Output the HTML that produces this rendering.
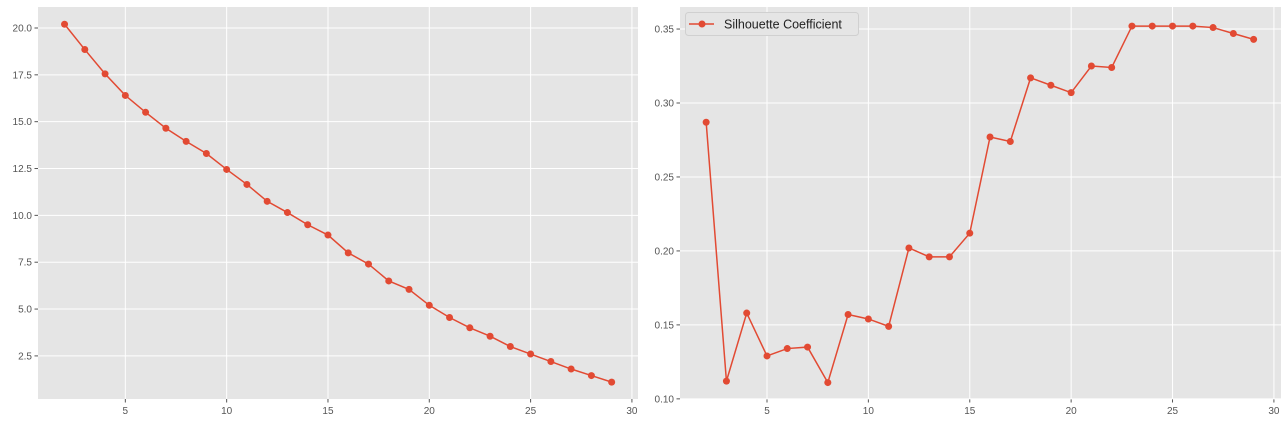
<!DOCTYPE html>
<html><head><meta charset="utf-8"><style>
body{margin:0;background:#fff;}
svg{display:block;font-family:"Liberation Sans",sans-serif;}
</style></head><body>
<svg id="c" width="1287" height="424"></svg>
<script>
const ks=[2,3,4,5,6,7,8,9,10,11,12,13,14,15,16,17,18,19,20,21,22,23,24,25,26,27,28,29];
const inertia=[20.2,18.85,17.55,16.4,15.5,14.65,13.95,13.3,12.45,11.65,10.75,10.15,9.5,8.95,8.0,7.4,6.5,6.05,5.2,4.55,4.0,3.55,3.0,2.6,2.2,1.8,1.45,1.1];
const silhouette=[0.287,0.112,0.158,0.129,0.134,0.135,0.111,0.157,0.154,0.149,0.202,0.196,0.196,0.212,0.277,0.274,0.317,0.312,0.307,0.325,0.324,0.352,0.352,0.352,0.352,0.351,0.347,0.343];
const xTicks=[5,10,15,20,25,30];
const yTicksL=[2.5,5.0,7.5,10.0,12.5,15.0,17.5,20.0];
const yTicksR=[0.10,0.15,0.20,0.25,0.30,0.35];
const NS='http://www.w3.org/2000/svg';
const svg=document.getElementById('c');
function mk(t,a,p){const e=document.createElementNS(NS,t);for(const k in a)e.setAttribute(k,a[k]);(p||svg).appendChild(e);return e;}
function panel(name,L,T,R,B,xmin,xmax,ymin,ymax,ys,yt,dec){
  const g=mk('g',{});
  
  
  const sx=v=>L+(v-xmin)/(xmax-xmin)*(R-L);
  const sy=v=>B-(v-ymin)/(ymax-ymin)*(B-T);
  const bg=mk('rect',{x:L,y:T,width:R-L,height:B-T,fill:'#e5e5e5'},g);
  
  xTicks.forEach(v=>{const x=sx(v);
    const l=mk('line',{x1:x,x2:x,y1:T,y2:B,stroke:'#fff','stroke-width':1},g);
    
    mk('line',{x1:x,x2:x,y1:B,y2:B+3.5,stroke:'#555'},g);
    const t=mk('text',{x:x,y:B+15,'text-anchor':'middle','font-size':10,fill:'#555'},g);t.textContent=v;
    });
  yt.forEach(v=>{const y=sy(v);
    const l=mk('line',{x1:L,x2:R,y1:y,y2:y,stroke:'#fff','stroke-width':1},g);
    
    mk('line',{x1:L-3.5,x2:L,y1:y,y2:y,stroke:'#555'},g);
    const t=mk('text',{x:L-6,y:y+3.5,'text-anchor':'end','font-size':10,fill:'#555'},g);t.textContent=v.toFixed(dec);
    });
  const pts=ks.map((k,i)=>sx(k)+','+sy(ys[i])).join(' ');
  const pl=mk('polyline',{points:pts,fill:'none',stroke:'#e24a33','stroke-width':1.5},g);
  
  ks.forEach((k,i)=>{const c=mk('circle',{cx:sx(k),cy:sy(ys[i]),r:3.5,fill:'#e24a33'},g);
    });
  return g;
}
panel('inertia-panel',38,7,638,399,0.69,30.3,0.2,21.12,inertia,yTicksL,1);
panel('silhouette-panel',680,7,1281,399,0.71,30.35,0.0999,0.3649,silhouette,yTicksR,2);
const lg=mk('g',{});

mk('rect',{x:685.5,y:12.5,width:173,height:23,rx:3,fill:'#e5e5e5',stroke:'#d0d0d0'},lg);
mk('line',{x1:689,x2:714,y1:24,y2:24,stroke:'#e24a33','stroke-width':1.5},lg);
mk('circle',{cx:702,cy:24,r:3.5,fill:'#e24a33'},lg);
const lt=mk('text',{x:724,y:28.5,'font-size':12.5,fill:'#222'},lg);lt.textContent='Silhouette Coefficient';

</script>
</body></html>
